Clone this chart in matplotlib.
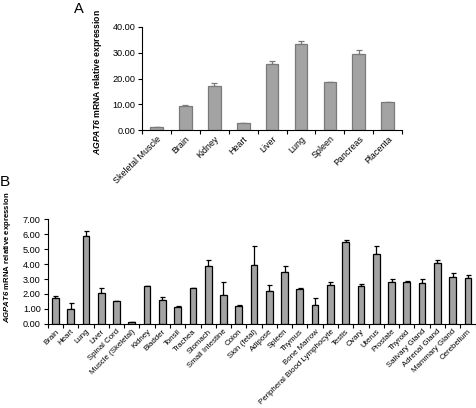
import numpy as np
import matplotlib
matplotlib.use("Agg")
import matplotlib.pyplot as plt

plt.rcParams['font.family'] = ['Liberation Sans', 'DejaVu Sans']
plt.rcParams['mathtext.fontset'] = 'custom'
plt.rcParams['mathtext.bfit'] = 'Liberation Sans:italic:bold'
plt.rcParams['mathtext.rm'] = 'Liberation Sans'

# panel A: tissue panel
tissues_a = ["Skeletal Muscle", "Brain", "Kidney", "Heart", "Liver", "Lung",
             "Spleen", "Pancreas", "Placenta"]
expr_a = [1.1, 9.5, 17.0, 2.6, 25.8, 33.5, 18.6, 29.6, 10.9]
err_a = [0.2, 0.4, 1.3, 0.3, 1.0, 1.1, 0.2, 1.6, 0.0]

# panel B: extended tissue panel
tissues_b = ["Brain", "Heart", "Lung", "Liver", "Spinal Cord", "Muscle (Skeletal)",
             "Kidney", "Bladder", "Tonsil", "Trachea", "Stomach", "Small Intestine",
             "Colon", "Skin (fetal)", "Adipose", "Spleen", "Thymus", "Bone Marrow",
             "Peripheral Blood Lymphocyte", "Testis", "Ovary", "Uterus", "Prostate",
             "Thyroid", "Salivary Gland", "Adrenal Gland", "Mammary Gland", "Cerebellum"]
expr_b = [1.72, 1.02, 5.88, 2.08, 1.50, 0.10, 2.52, 1.58, 1.15, 2.38, 3.85, 1.95,
          1.22, 3.95, 2.20, 3.45, 2.35, 1.27, 2.63, 5.47, 2.56, 4.68, 2.78, 2.78,
          2.72, 4.09, 3.15, 3.08]
err_b = [0.12, 0.38, 0.30, 0.30, 0.05, 0.04, 0.04, 0.25, 0.05, 0.04, 0.40, 0.88,
         0.04, 1.25, 0.38, 0.42, 0.03, 0.45, 0.18, 0.14, 0.12, 0.50, 0.22, 0.06,
         0.26, 0.20, 0.28, 0.20]

ylab = r"$\mathbfit{AGPAT6}$" + " mRNA relative expression"

fig = plt.figure(figsize=(4.77, 4.08), dpi=100)


def draw_panel(ax, names, vals, errs, edge, ticks, yfs, xfs, cap):
    x = np.arange(len(names))
    ax.bar(x, vals, width=0.44, color="#a3a3a3", edgecolor=edge, linewidth=0.9, zorder=2)
    ax.errorbar(x, vals, yerr=[np.zeros(len(vals)), errs], fmt="none",
                ecolor=edge, elinewidth=0.9, capsize=cap, capthick=0.9, zorder=1)
    ax.set_xlim(-0.5, len(names) - 0.5)
    ax.set_ylim(ticks[0], ticks[-1])
    ax.set_yticks(ticks)
    ax.set_yticklabels(["%.2f" % t for t in ticks], fontsize=yfs)
    # ticks sit between categories, labels at the centres
    ax.set_xticks(np.arange(len(names) + 1) - 0.5)
    ax.set_xticklabels([])
    ax.set_xticks(x, minor=True)
    ax.set_xticklabels(names, minor=True, rotation=45, ha="right",
                       rotation_mode="anchor", fontsize=xfs)
    ax.tick_params(axis="x", which="minor", length=0, pad=3)
    ax.tick_params(axis="both", which="major", length=3, width=0.8, direction="out", pad=2)
    for s in ["top", "right"]:
        ax.spines[s].set_visible(False)
    for s in ["left", "bottom"]:
        ax.spines[s].set_linewidth(0.8)


ax_a = fig.add_axes([0.298, 0.681, 0.545, 0.253])
draw_panel(ax_a, tissues_a, expr_a, err_a, "#7a7a7a", [0, 10, 20, 30, 40], 6.6, 6.4, 2.3)
ax_a.set_ylabel(ylab, fontsize=6.2, fontweight="bold")
ax_a.yaxis.set_label_coords(-0.145, 0.47)
fig.text(0.155, 0.995, "A", fontsize=10.5, va="top", ha="left")

ax_b = fig.add_axes([0.100, 0.206, 0.897, 0.257])
draw_panel(ax_b, tissues_b, expr_b, err_b, "black", [0, 1, 2, 3, 4, 5, 6, 7], 6.6, 5.7, 1.8)
ax_b.set_ylabel(ylab, fontsize=5.6, fontweight="bold")
ax_b.yaxis.set_label_coords(-0.082, 0.64)
fig.text(0.0, 0.57, "B", fontsize=11, va="top", ha="left")

fig.savefig("out.png", dpi=100)
